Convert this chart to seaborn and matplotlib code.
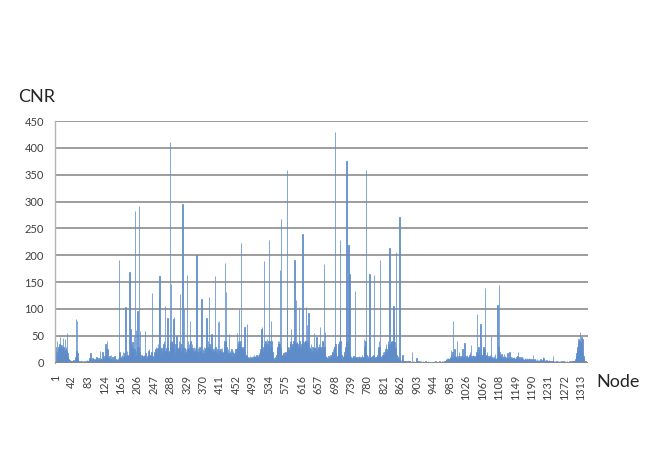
import numpy as np
import pandas as pd
import matplotlib
matplotlib.use('Agg')
import matplotlib.pyplot as plt
import seaborn as sns

# background level of every node, 41 nodes per row (one row per tick step)
base_rows = [
    [36, 30, 12, 20, 38, 15, 10, 25, 30, 18, 28, 35, 22, 30, 14, 26, 32, 20, 28, 24, 18, 30, 26, 15, 28, 20, 25, 30, 22, 12, 28, 18, 10, 6, 4, 3, 5, 2, 4, 3, 2],
    [3, 2, 4, 2, 3, 5, 2, 3, 4, 6, 10, 25, 22, 20, 24, 18, 8, 4, 2, 3, 2, 1, 3, 2, 2, 4, 1, 2, 3, 2, 1, 2, 4, 3, 2, 1, 2, 3, 5, 2, 4],
    [3, 4, 6, 3, 8, 5, 18, 4, 6, 3, 5, 8, 4, 3, 6, 2, 5, 4, 3, 7, 5, 10, 4, 6, 5, 3, 8, 6, 4, 5, 22, 7, 4, 8, 5, 6, 20, 10, 6, 4, 8],
    [12, 10, 6, 35, 28, 8, 12, 40, 25, 10, 6, 8, 5, 12, 6, 4, 15, 8, 5, 6, 10, 4, 6, 3, 5, 12, 8, 4, 6, 5, 3, 4, 6, 5, 8, 4, 6, 10, 20, 14, 8],
    [12, 8, 15, 6, 10, 20, 8, 5, 12, 18, 10, 14, 8, 6, 12, 22, 15, 10, 8, 12, 18, 25, 14, 30, 40, 35, 28, 22, 30, 38, 30, 20, 28, 35, 25, 15, 10, 22, 18, 12, 30],
    [40, 30, 25, 30, 20, 20, 12, 8, 6, 10, 14, 8, 5, 12, 6, 10, 8, 15, 12, 20, 18, 10, 6, 8, 5, 12, 10, 6, 22, 25, 14, 10, 8, 12, 16, 20, 28, 18, 12, 10, 8],
    [10, 14, 20, 12, 25, 30, 18, 22, 15, 28, 20, 35, 25, 30, 28, 20, 18, 25, 30, 15, 12, 22, 28, 20, 35, 40, 25, 18, 30, 22, 15, 20, 28, 35, 40, 30, 25, 20, 18, 22, 30],
    [40, 35, 30, 38, 40, 30, 25, 35, 20, 30, 28, 15, 22, 35, 25, 18, 20, 30, 26, 15, 20, 28, 40, 30, 25, 38, 22, 20, 35, 30, 25, 20, 30, 18, 22, 15, 28, 20, 14, 25, 18],
    [20, 30, 25, 40, 30, 22, 35, 28, 38, 30, 40, 30, 25, 20, 35, 28, 22, 18, 30, 25, 20, 28, 22, 30, 35, 25, 18, 20, 28, 22, 15, 25, 30, 20, 18, 22, 28, 20, 15, 22, 18],
    [25, 18, 20, 30, 22, 15, 28, 35, 20, 25, 30, 22, 18, 40, 30, 25, 35, 30, 20, 25, 22, 18, 15, 20, 25, 18, 22, 15, 28, 20, 38, 30, 18, 22, 15, 20, 25, 18, 22, 14, 20],
    [22, 15, 18, 25, 12, 20, 15, 28, 20, 12, 18, 25, 30, 40, 35, 38, 30, 40, 30, 22, 18, 25, 15, 20, 12, 18, 22, 15, 10, 18, 25, 20, 12, 15, 22, 18, 10, 15, 20, 12, 25],
    [18, 25, 30, 20, 28, 40, 35, 30, 38, 40, 35, 30, 40, 35, 25, 20, 30, 22, 18, 25, 30, 20, 15, 22, 12, 10, 15, 8, 12, 10, 6, 8, 10, 5, 8, 12, 6, 5, 8, 10, 6],
    [8, 12, 6, 10, 14, 8, 5, 12, 10, 6, 15, 8, 12, 10, 14, 8, 12, 18, 15, 20, 25, 30, 40, 35, 30, 20, 15, 25, 30, 22, 35, 28, 20, 40, 30, 35, 30, 25, 20, 35, 40],
    [40, 38, 40, 30, 25, 30, 35, 40, 30, 20, 15, 10, 8, 5, 4, 3, 6, 10, 8, 15, 20, 25, 30, 40, 35, 30, 40, 35, 30, 28, 40, 20, 15, 10, 12, 8, 15, 18, 20, 14, 10],
    [15, 20, 12, 18, 40, 40, 30, 25, 20, 25, 30, 22, 40, 35, 38, 40, 30, 25, 35, 28, 30, 40, 38, 35, 30, 40, 36, 40, 35, 38, 38, 30, 25, 35, 40, 38, 40, 30, 25, 20, 30],
    [35, 40, 38, 40, 30, 25, 35, 38, 40, 30, 40, 38, 40, 35, 40, 35, 38, 40, 30, 25, 20, 30, 25, 35, 20, 15, 22, 30, 18, 25, 20, 15, 28, 22, 30, 18, 25, 30, 20, 15, 22],
    [25, 30, 20, 35, 28, 40, 30, 20, 25, 18, 30, 40, 38, 35, 25, 38, 30, 20, 15, 10, 12, 8, 6, 10, 5, 8, 12, 6, 10, 8, 5, 15, 10, 8, 12, 18, 20, 25, 15, 10, 30],
    [30, 40, 35, 20, 15, 10, 8, 12, 20, 30, 35, 40, 38, 40, 35, 40, 20, 15, 10, 8, 6, 12, 10, 8, 15, 20, 25, 30, 35, 40, 38, 40, 35, 40, 38, 40, 30, 30, 15, 10, 8],
    [12, 6, 10, 8, 5, 10, 12, 8, 6, 10, 20, 8, 5, 6, 10, 4, 8, 6, 5, 10, 12, 6, 8, 5, 10, 8, 6, 12, 15, 8, 5, 10, 20, 25, 30, 35, 40, 30, 20, 15, 10],
    [8, 12, 10, 6, 15, 20, 30, 12, 8, 6, 10, 5, 8, 12, 10, 15, 20, 12, 8, 6, 10, 8, 5, 10, 12, 15, 20, 25, 30, 40, 30, 20, 15, 10, 12, 8, 6, 10, 15, 20, 12],
    [10, 15, 20, 12, 25, 30, 35, 20, 15, 25, 30, 40, 35, 30, 20, 25, 30, 35, 40, 38, 30, 35, 40, 30, 25, 35, 40, 38, 30, 25, 20, 30, 15, 10, 8, 12, 6, 5, 8, 4, 6],
    [4, 3, 5, 2, 4, 6, 3, 2, 4, 3, 2, 3, 2, 4, 2, 3, 2, 2, 3, 1, 2, 3, 2, 4, 2, 3, 2, 1, 2, 3, 2, 2, 4, 2, 3, 2, 1, 2, 2, 3, 2],
    [2, 3, 4, 2, 3, 2, 2, 3, 1, 2, 2, 3, 2, 2, 1, 2, 3, 2, 2, 1, 2, 2, 3, 2, 1, 2, 2, 1, 2, 3, 2, 2, 1, 2, 2, 1, 2, 2, 1, 2, 2],
    [2, 1, 2, 2, 1, 2, 3, 2, 1, 2, 2, 1, 2, 2, 1, 2, 3, 2, 2, 1, 2, 2, 3, 2, 2, 3, 2, 4, 3, 2, 3, 4, 6, 5, 4, 3, 5, 8, 6, 4, 5],
    [6, 10, 8, 12, 15, 10, 8, 20, 12, 8, 10, 6, 12, 8, 5, 10, 12, 8, 15, 10, 6, 8, 12, 10, 5, 8, 10, 12, 6, 8, 10, 15, 12, 8, 6, 10, 12, 15, 10, 8, 12],
    [10, 8, 12, 15, 10, 6, 8, 12, 10, 15, 20, 12, 8, 10, 6, 8, 12, 10, 15, 12, 8, 10, 6, 8, 12, 15, 20, 25, 18, 15, 20, 30, 25, 20, 15, 12, 20, 25, 18, 15, 12],
    [15, 20, 25, 30, 28, 25, 20, 15, 12, 10, 15, 20, 12, 8, 10, 12, 6, 8, 10, 15, 12, 20, 15, 10, 8, 6, 5, 10, 8, 12, 6, 8, 10, 5, 8, 6, 10, 15, 20, 25, 30],
    [30, 25, 20, 15, 10, 8, 12, 10, 6, 8, 12, 10, 8, 6, 10, 12, 8, 5, 10, 8, 6, 10, 12, 8, 6, 10, 8, 5, 8, 10, 6, 8, 5, 10, 8, 6, 5, 8, 10, 6, 5],
    [8, 6, 5, 10, 8, 6, 12, 8, 5, 6, 8, 10, 6, 5, 8, 6, 10, 8, 5, 6, 8, 5, 6, 4, 5, 8, 6, 4, 5, 6, 8, 5, 4, 6, 5, 8, 4, 5, 6, 4, 5],
    [6, 5, 4, 8, 6, 5, 4, 6, 5, 4, 3, 5, 4, 6, 3, 4, 5, 3, 4, 5, 3, 4, 6, 4, 3, 5, 4, 3, 4, 6, 8, 4, 3, 5, 4, 3, 4, 5, 3, 4, 3],
    [4, 3, 5, 4, 3, 4, 2, 3, 4, 3, 2, 4, 3, 2, 3, 4, 2, 3, 2, 3, 2, 3, 4, 2, 3, 2, 2, 3, 2, 2, 3, 2, 2, 3, 2, 2, 1, 2, 3, 2, 2],
    [2, 3, 2, 2, 1, 2, 3, 2, 2, 1, 2, 2, 3, 2, 2, 1, 2, 3, 2, 2, 3, 2, 4, 3, 2, 3, 5, 6, 8, 12, 18, 25, 30, 28, 35, 30, 38, 40, 35, 30, 38],
    [35, 40, 30, 28, 25, 20, 12, 8, 5, 3, 2, 3, 2, 2, 1, 2, 1, 1],
]

# the taller spikes
peak_nodes = [5, 13, 20, 25, 31, 53, 56,
              161, 176, 186, 189, 198, 200, 203, 206, 210, 213, 225,
              242, 260, 261, 275, 281, 287, 290, 296, 297, 304, 312, 319, 322, 330, 337,
              354, 366, 379, 385, 391, 400, 408, 410, 425, 427, 435, 454, 460, 465, 473, 479,
              516, 517, 522, 530, 534, 539, 562, 564, 579, 580, 589, 598, 602, 610, 618,
              627, 630, 633, 647, 653, 662, 672, 674,
              699, 711, 712, 728, 733, 735, 749, 772, 776, 785, 796, 811, 835, 845, 847, 851, 860,
              868, 891, 903, 978, 988, 993, 997, 1004, 1008, 1017, 1022, 1038, 1054, 1058, 1062,
              1074, 1088, 1099, 1105, 1108, 1115, 1121, 1130, 1135, 1156, 1193, 1218, 1243,
              1307, 1311, 1314, 1317]
peak_values = [40, 48, 46, 45, 56, 81, 78,
               192, 103, 169, 62, 50, 283, 60, 97, 292, 59, 59,
               129, 122, 162, 106, 84, 410, 147, 81, 85, 50, 128, 295, 100, 164, 78,
               200, 119, 84, 122, 53, 162, 75, 78, 186, 131, 53, 56, 100, 223, 66, 72,
               62, 66, 190, 44, 228, 78, 172, 268, 100, 359, 62, 192, 116, 103, 239,
               104, 70, 92, 56, 47, 67, 184, 58,
               429, 100, 228, 375, 219, 166, 134, 44, 359, 166, 164, 192, 214, 106, 60, 207, 272,
               14, 20, 8, 9, 23, 78, 26, 40, 20, 25, 37, 32, 90, 23, 72,
               139, 49, 17, 107, 145, 17, 16, 18, 20, 20, 14, 10, 12,
               45, 57, 48, 45]

cnr = np.array([v for row in base_rows for v in row], dtype=float)
for n, v in zip(peak_nodes, peak_values):
    cnr[n - 1] = v
nodes = np.arange(1, len(cnr) + 1)
df = pd.DataFrame({'Node': nodes, 'CNR': cnr})

sns.set_style('white')
plt.rcParams['font.family'] = ['Lato', 'DejaVu Sans']

fig = plt.figure(figsize=(6.64, 4.69), dpi=100)
ax = fig.add_axes([0.0828, 0.2267, 0.8027, 0.5153])

ax.yaxis.grid(True, color='#8c8c8c', linewidth=1.2)
ax.set_axisbelow(True)

# bars are under a pixel wide, a thin edge keeps every spike visible
sns.barplot(data=df, x='Node', y='CNR', color='#5384c2', saturation=1,
            width=1.0, linewidth=0.55, edgecolor='#5f8ecb', ax=ax)

ax.axhline(0, color='#8a8a8a', linewidth=2.2, zorder=5)
ax.set_xlim(-0.5, len(cnr) - 0.5)
ax.set_ylim(0, 450)
ax.set_yticks(range(0, 451, 50))

tick_idx = np.arange(0, len(cnr), 41)
ax.set_xticks(tick_idx)
ax.set_xticklabels([str(nodes[i]) for i in tick_idx], rotation=90, fontsize=7.8, color='#404040')
ax.tick_params(axis='y', labelsize=8, colors='#404040', length=0, pad=8)
ax.tick_params(axis='x', length=0, pad=9)

for s in ['top', 'right']:
    ax.spines[s].set_visible(False)
ax.spines['bottom'].set_visible(False)
ax.spines['left'].set_color('#b4b4b4')
ax.spines['left'].set_linewidth(1)

ax.set_xlabel('')
ax.set_ylabel('')
fig.text(0.027, 0.793, 'CNR', fontsize=13, va='center', ha='left')
fig.text(0.898, 0.185, 'Node', fontsize=13, va='center', ha='left')

fig.savefig('out.png', dpi=100)
